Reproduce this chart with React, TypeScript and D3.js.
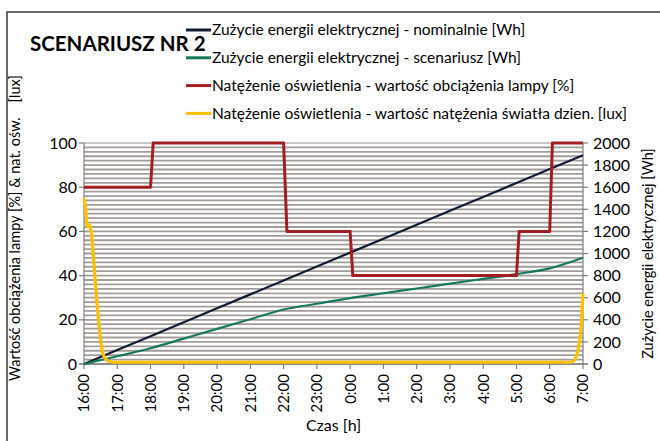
import { useEffect, useRef } from 'react';
import * as d3 from 'd3';

const width = 660;
const height = 441;
const [mt, mr, mb, ml] = [143, 77, 77, 84];
const plotW = width - ml - mr;
const plotH = height - mt - mb;

// x: hours counted from 16:00
const hourLabels = ['16:00', '17:00', '18:00', '19:00', '20:00', '21:00', '22:00', '23:00', '0:00', '1:00', '2:00', '3:00', '4:00', '5:00', '6:00', '7:00'];
const hourTicks = [0, 1, 2, 3, 4, 5, 6, 7, 8, 9, 10, 11, 12, 13, 14, 15];

// energy, nominal [Wh]
const nominalWh = [0, 126, 252, 378, 504, 630, 756, 882, 1008, 1134, 1260, 1386, 1512, 1638, 1764, 1890];
// energy, scenario [Wh]
const scenarioWh = [0, 70, 142, 230, 318, 405, 493, 545, 596, 640, 683, 727, 770, 814, 866, 962];

// lamp load [%]
const lampHours = [0, 2, 2.08, 6, 6.1, 8, 8.08, 13, 13.08, 14, 14.08, 15];
const lampLoad = [80, 80, 100, 100, 60, 60, 40, 40, 60, 60, 100, 100];

// daylight [lux]
const dayHours = [0, 0.05, 0.1, 0.15, 0.2, 0.25, 0.3, 0.35, 0.4, 0.45, 0.5, 0.55, 0.6, 0.7, 0.8, 0.9, 1, 14.6, 14.7, 14.75, 14.8, 14.85, 14.9, 14.95, 15];
const dayLux = [75, 70, 62, 63, 61, 55, 45, 35, 26, 18, 11, 6, 3.5, 1.6, 1, 0.8, 0.8, 0.8, 1.2, 2, 3.5, 6.5, 11, 18, 32];

const leftTicks = [0, 20, 40, 60, 80, 100];
const rightTicks = [0, 200, 400, 600, 800, 1000, 1200, 1400, 1600, 1800, 2000];

const legendItems = [
    { label: 'Zużycie energii elektrycznej - nominalnie [Wh]', color: '#0f1c33' },
    { label: 'Zużycie energii elektrycznej - scenariusz [Wh]', color: '#17795c' },
    { label: 'Natężenie oświetlenia  - wartość obciążenia lampy [%]', color: '#a31e23' },
    { label: 'Natężenie oświetlenia - wartość natężenia światła dzien. [lux]', color: '#ffc000' }
];

const font = 'Lato, "Open Sans", sans-serif';

export default function App() {
    const ref = useRef<SVGSVGElement>(null);

    useEffect(() => {
        const svg = d3.select(ref.current);
        svg.selectAll('*').remove();

        const x = d3.scaleLinear().domain([0, 15]).range([ml, ml + plotW]);
        const yL = d3.scaleLinear().domain([0, 100]).range([mt + plotH, mt]);
        const yR = d3.scaleLinear().domain([0, 2000]).range([mt + plotH, mt]);

        // frame
        svg.append('rect').attr('x', 7).attr('y', 12).attr('width', 700).attr('height', 500)
            .attr('fill', 'none').attr('stroke', '#3a3a3a').attr('stroke-width', 1.5);

        // stripes
        const grid = svg.append('g');
        grid.selectAll('line').data(d3.range(0, 101, 2)).join('line')
            .attr('x1', ml).attr('x2', ml + plotW)
            .attr('y1', (d) => yL(d)).attr('y2', (d) => yL(d))
            .attr('stroke', (d) => (d === 100 ? '#c8c8c8' : '#a39d99'))
            .attr('stroke-width', 1.8);

        // axes
        const axisColor = '#7f7f7f';
        svg.append('line').attr('x1', ml).attr('x2', ml).attr('y1', mt).attr('y2', mt + plotH).attr('stroke', axisColor).attr('stroke-width', 1.2);
        svg.append('line').attr('x1', ml + plotW).attr('x2', ml + plotW).attr('y1', mt).attr('y2', mt + plotH).attr('stroke', axisColor).attr('stroke-width', 1.2);
        svg.append('line').attr('x1', ml - 5).attr('x2', ml + plotW + 5).attr('y1', mt + plotH).attr('y2', mt + plotH).attr('stroke', axisColor).attr('stroke-width', 1.2);

        svg.append('g').selectAll('line').data(leftTicks).join('line')
            .attr('x1', ml - 5).attr('x2', ml).attr('y1', (d) => yL(d)).attr('y2', (d) => yL(d))
            .attr('stroke', axisColor).attr('stroke-width', 1.2);
        svg.append('g').selectAll('line').data(rightTicks).join('line')
            .attr('x1', ml + plotW).attr('x2', ml + plotW + 5).attr('y1', (d) => yR(d)).attr('y2', (d) => yR(d))
            .attr('stroke', axisColor).attr('stroke-width', 1.2);
        svg.append('g').selectAll('line').data(hourTicks).join('line')
            .attr('x1', (d) => x(d)).attr('x2', (d) => x(d)).attr('y1', mt + plotH).attr('y2', mt + plotH + 5)
            .attr('stroke', axisColor).attr('stroke-width', 1.2);

        svg.append('g').selectAll('text').data(leftTicks).join('text')
            .attr('x', ml - 7).attr('y', (d) => yL(d)).attr('dy', '0.35em')
            .attr('text-anchor', 'end').attr('font-size', 16).text((d) => d);
        svg.append('g').selectAll('text').data(rightTicks).join('text')
            .attr('x', ml + plotW + 10).attr('y', (d) => yR(d)).attr('dy', '0.35em')
            .attr('font-size', 16).text((d) => d);
        svg.append('g').selectAll('text').data(hourTicks).join('text')
            .attr('transform', (d) => `translate(${x(d)},${mt + plotH + 10}) rotate(-90)`)
            .attr('dy', '0.36em').attr('text-anchor', 'end')
            .attr('font-size', 15).text((d, i) => hourLabels[i]);

        // axis titles
        svg.append('text').attr('x', ml + plotW / 2).attr('y', 431).attr('text-anchor', 'middle')
            .attr('font-size', 16).text('Czas [h]');
        svg.append('text').attr('transform', `translate(20,228) rotate(-90)`).attr('text-anchor', 'middle')
            .attr('font-size', 14.5).style('white-space', 'pre')
            .text('Wartość obciążenia lampy [%] & nat. ośw.    [lux]');
        svg.append('text').attr('transform', `translate(653,${mt + plotH / 2}) rotate(-90)`).attr('text-anchor', 'middle')
            .attr('font-size', 14.5).text('Zużycie energii elektrycznej [Wh]');

        // series
        const line = d3.line<[number, number]>().x((d) => d[0]).y((d) => d[1]);
        svg.append('path')
            .attr('d', line(hourTicks.map((h, i) => [x(h), yR(nominalWh[i])])))
            .attr('fill', 'none').attr('stroke', legendItems[0].color).attr('stroke-width', 2.2);
        svg.append('path')
            .attr('d', line.curve(d3.curveMonotoneX)(hourTicks.map((h, i) => [x(h), yR(scenarioWh[i])])))
            .attr('fill', 'none').attr('stroke', legendItems[1].color).attr('stroke-width', 2.2);
        svg.append('path')
            .attr('d', line.curve(d3.curveLinear)(lampHours.map((h, i) => [x(h), yL(lampLoad[i])])))
            .attr('fill', 'none').attr('stroke', legendItems[2].color).attr('stroke-width', 3)
            .attr('stroke-linejoin', 'round');
        svg.append('path')
            .attr('d', line.curve(d3.curveMonotoneX)(dayHours.map((h, i) => [x(h), yL(dayLux[i])])))
            .attr('fill', 'none').attr('stroke', legendItems[3].color).attr('stroke-width', 3.2)
            .attr('stroke-linejoin', 'round');

        // title + legend
        svg.append('text').attr('x', 30).attr('y', 51).attr('font-size', 20.5).attr('font-weight', 700)
            .text('SCENARIUSZ NR 2');
        const legend = svg.append('g').selectAll('g').data(legendItems).join('g')
            .attr('transform', (d, i) => `translate(186,${30 + i * 27.8})`);
        legend.append('line').attr('x1', 0).attr('x2', 25).attr('stroke', (d) => d.color).attr('stroke-width', 3);
        legend.append('text').attr('x', 26).attr('dy', '0.35em').attr('font-size', 15.5).text((d) => d.label);
    }, []);

    return (
        <svg
            ref={ref}
            width={width}
            height={height}
            style={{ position: 'absolute', left: 0, top: 0, background: '#fff', fontFamily: font }}
        />
    );
}
